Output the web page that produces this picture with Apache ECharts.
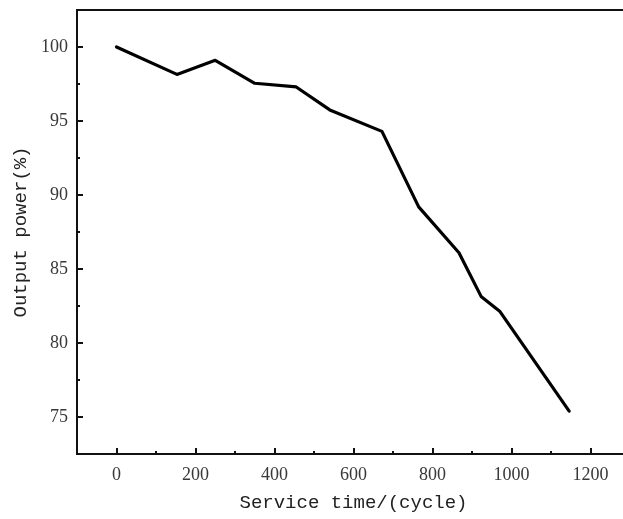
<!DOCTYPE html>
<html>
<head>
<meta charset="utf-8">
<script src="https://cdn.jsdelivr.net/npm/echarts@6/dist/echarts.min.js"></script>
<style>
  html, body { margin: 0; padding: 0; background: #fff; overflow: hidden; }
  #chart { width: 640px; height: 519px; }
</style>
</head>
<body>
<div id="chart"></div>
<script>
// Output power retained over service cycles
const cycles = [0, 153, 250, 350, 455, 540, 672, 765, 867, 923, 970, 1146];
const outputPower = [100, 98.15, 99.1, 97.55, 97.3, 95.75, 94.3, 89.2, 86.1, 83.15, 82.15, 75.4];

// Axis ticks (labelled majors and unlabelled minors)
const xMajorTicks = [0, 200, 400, 600, 800, 1000, 1200];
const xMinorTicks = [100, 300, 500, 700, 900, 1100];
const yMajorTicks = [75, 80, 85, 90, 95, 100];
const yMinorTicks = [77.5, 82.5, 87.5, 92.5, 97.5];

const xRange = [-100, 1300];
const yRange = [72.5, 102.5];

const labelFont = { fontFamily: 'Liberation Serif, serif', fontSize: 18, color: '#383838' };
const titleFont = { fontFamily: 'Liberation Mono, monospace', fontSize: 19, color: '#222' };
const ink = '#111';
const plain = v => String(v);

const chart = echarts.init(document.getElementById('chart'), null, { renderer: 'canvas' });

chart.setOption({
  animation: false,
  backgroundColor: '#fff',
  grid: {
    left: 77, top: 10, right: 10, bottom: 65,
    show: true, borderColor: ink, borderWidth: 2, backgroundColor: 'transparent'
  },
  xAxis: [
    {
      type: 'value', min: xRange[0], max: xRange[1], position: 'bottom',
      name: 'Service time/(cycle)', nameLocation: 'middle', nameGap: 39,
      nameTextStyle: titleFont,
      axisLine: { show: true, onZero: false, lineStyle: { color: ink, width: 2 } },
      axisTick: { show: true, inside: true, length: 6, customValues: xMajorTicks, lineStyle: { color: ink, width: 2 } },
      axisLabel: { show: true, margin: 12, customValues: xMajorTicks, formatter: plain, ...labelFont },
      splitLine: { show: false }
    },
    {
      type: 'value', min: xRange[0], max: xRange[1], position: 'bottom',
      axisLine: { show: false, onZero: false },
      axisTick: { show: true, inside: true, length: 3, customValues: xMinorTicks, lineStyle: { color: ink, width: 2 } },
      axisLabel: { show: false },
      splitLine: { show: false }
    }
  ],
  yAxis: [
    {
      type: 'value', min: yRange[0], max: yRange[1], position: 'left',
      name: 'Output power(%)', nameLocation: 'middle', nameGap: 40,
      nameTextStyle: titleFont,
      axisLine: { show: true, onZero: false, lineStyle: { color: ink, width: 2 } },
      axisTick: { show: true, inside: true, length: 6, customValues: yMajorTicks, lineStyle: { color: ink, width: 2 } },
      axisLabel: { show: true, margin: 9, customValues: yMajorTicks, formatter: plain, ...labelFont },
      splitLine: { show: false }
    },
    {
      type: 'value', min: yRange[0], max: yRange[1], position: 'left',
      axisLine: { show: false, onZero: false },
      axisTick: { show: true, inside: true, length: 3, customValues: yMinorTicks, lineStyle: { color: ink, width: 2 } },
      axisLabel: { show: false },
      splitLine: { show: false }
    }
  ],
  series: [
    {
      type: 'line',
      xAxisIndex: 0, yAxisIndex: 0,
      data: cycles.map((c, i) => [c, outputPower[i]]),
      showSymbol: false,
      lineStyle: { color: '#000', width: 3.2, join: 'round', cap: 'round' },
      clip: false
    }
  ]
});
</script>
</body>
</html>
